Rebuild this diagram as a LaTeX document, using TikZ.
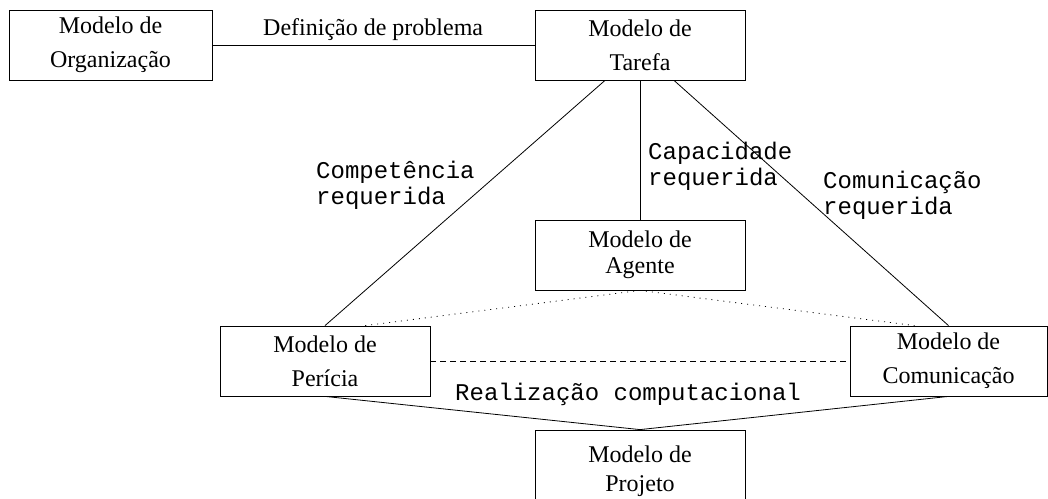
\documentclass[tikz,border=0pt]{standalone}
\usepackage{fontspec}
\setmainfont{Liberation Serif}
\setmonofont{Liberation Mono}
\tikzset{
  modelo/.style={draw, line width=0.8pt, minimum width=210pt, minimum height=70pt,
    align=center, inner sep=0pt, font=\fontsize{24}{34}\selectfont},
  rotulo/.style={inner sep=0pt, align=left, font=\ttfamily\fontsize{24}{26}\selectfont},
  liga/.style={line width=0.8pt},
}
\begin{document}
\begin{tikzpicture}[x=1pt, y=-1pt]
    \useasboundingbox (0,0) rectangle (1048,498);
    \node[modelo, minimum width=203pt] (org) at (110.5,45) {Modelo de\\Organização};
    \node[modelo] (tarefa)  at (640,45)  {Modelo de\\Tarefa};
    \node[modelo] (agente)  at (640,255) {Modelo de\\[-8pt]Agente};
    \node[modelo] (pericia) at (325,361) {Modelo de\\Perícia};
    \node[modelo, minimum width=197pt] (comunic) at (948.5,361) {Modelo de\\Comunicação};
    \node[modelo, minimum height=82pt] (projeto) at (640,471) {Modelo de\\[-5pt]Projeto};
    % ligacoes
    \draw[liga] (org) -- (tarefa);
    \draw[liga] ([xshift=-35pt]tarefa.south) -- (pericia.north);
    \draw[liga] (tarefa.south) -- (agente.north);
    \draw[liga] ([xshift=34pt]tarefa.south) -- (comunic.north);
    \draw[liga, dash pattern=on 1pt off 5pt] (agente.south) -- ([xshift=40pt]pericia.north);
    \draw[liga, dash pattern=on 1pt off 5pt] (agente.south) -- ([xshift=-34pt]comunic.north);
    \draw[liga, dash pattern=on 6pt off 4pt] (pericia.east) -- (comunic.west);
    \draw[liga] (pericia.south) -- (projeto.north);
    \draw[liga] (comunic.south) -- (projeto.north);
    % rotulos
    \node[inner sep=0pt, anchor=base west, font=\fontsize{24}{34}\selectfont] (defprob) at (263,35) {Definição de problema};
    \node[rotulo, anchor=west] (compet) at (316,185) {Competência\\requerida};
    \node[rotulo, anchor=west] (capac)  at (648,166) {Capacidade\\requerida};
    \node[rotulo, anchor=west] (comreq) at (823,195) {Comunicação\\requerida};
    \node[rotulo, anchor=base west] (realiz) at (455,400) {Realização computacional};
\end{tikzpicture}
\end{document}
